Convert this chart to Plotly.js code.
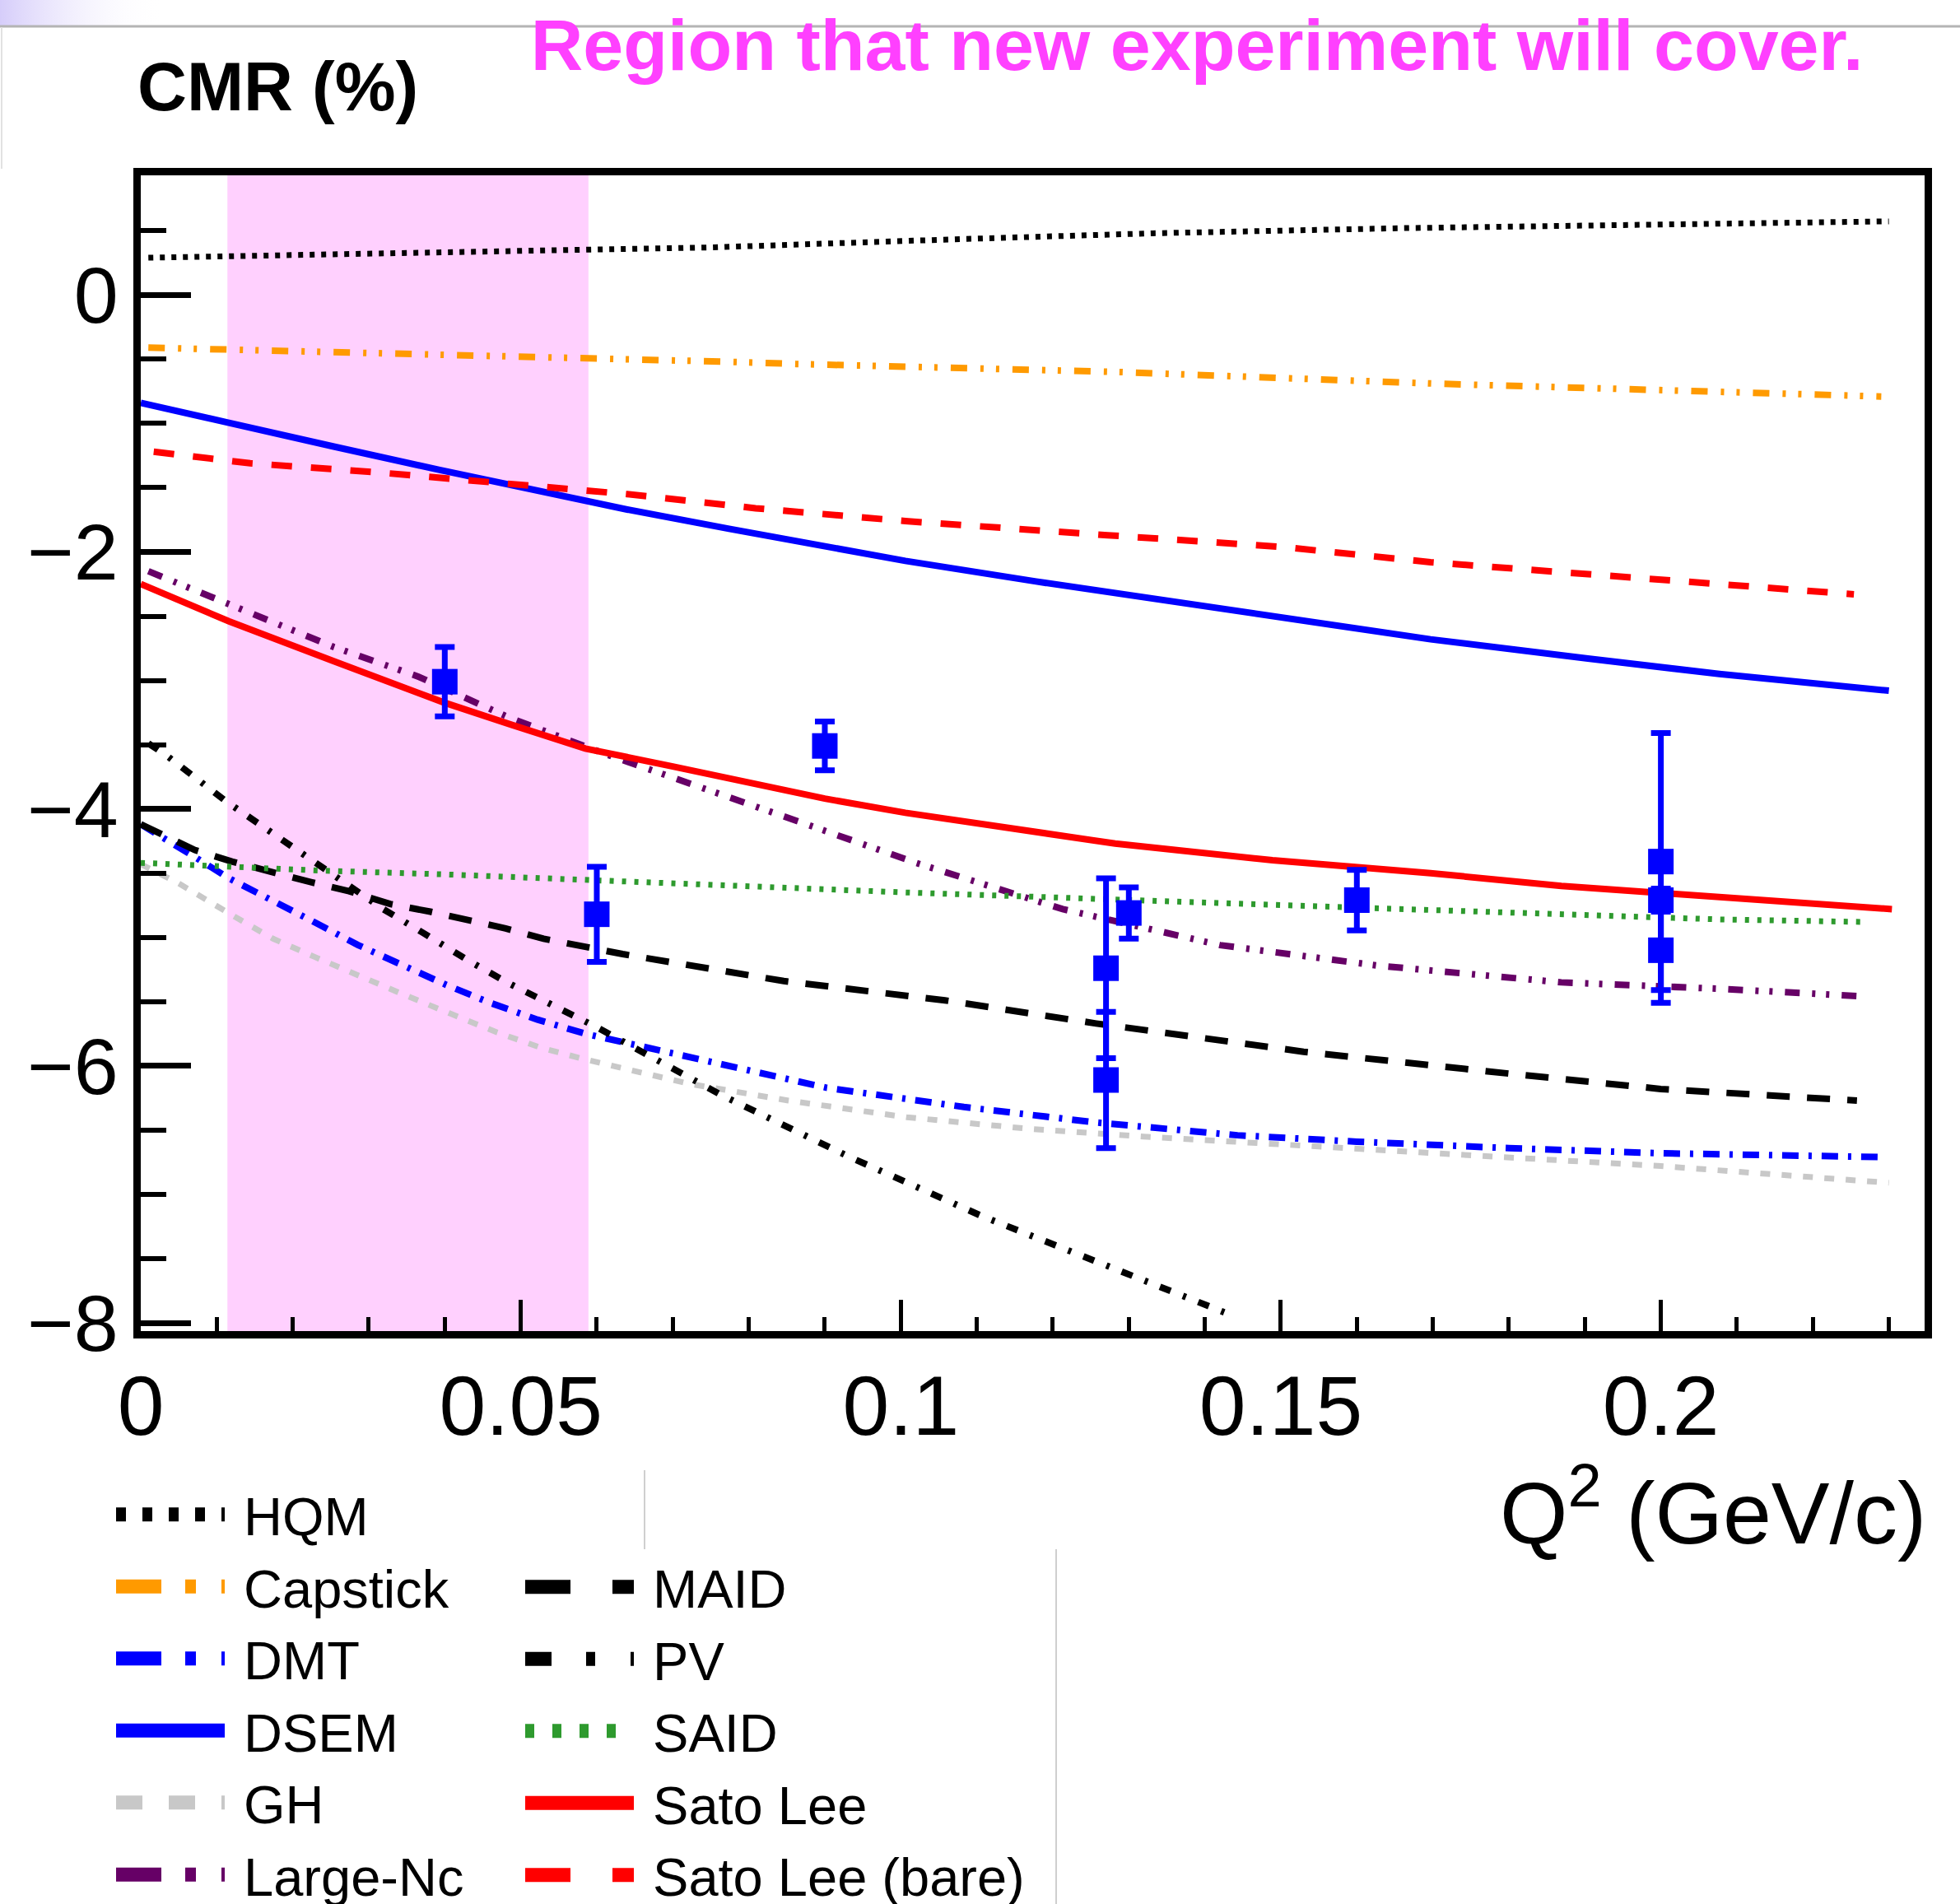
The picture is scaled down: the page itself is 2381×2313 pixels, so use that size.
<!DOCTYPE html>
<html><head><meta charset="utf-8">
<script src="https://cdn.plot.ly/plotly-3.0.1.min.js"></script>
<style>html,body{margin:0;padding:0;background:#fff}#chart{width:2381px;height:2313px}</style>
</head><body><div id="chart"></div>
<script>
// ---------- data ----------
const regionQ2 = [0.0114, 0.0589];

const hqmQ2 = [0.001, 0.0254, 0.0475, 0.0751, 0.108, 0.1331, 0.166, 0.1949, 0.23];
const hqmCMR = [0.29, 0.32, 0.34, 0.37, 0.435, 0.48, 0.52, 0.546, 0.573];

const capstickQ2 = [0.001, 0.031, 0.0585, 0.0774, 0.0862, 0.1288, 0.1703, 0.2211, 0.229];
const capstickCMR = [-0.41, -0.45, -0.49, -0.52, -0.537, -0.60, -0.69, -0.778, -0.79];

const dsemQ2 = [0, 0.0116, 0.0254, 0.0392, 0.053, 0.064, 0.0774, 0.1006, 0.1178, 0.1351, 0.1524, 0.1697, 0.1904, 0.2077, 0.23];
const dsemCMR = [-0.84, -1.0, -1.18, -1.36, -1.53, -1.67, -1.82, -2.07, -2.23, -2.38, -2.52, -2.68, -2.83, -2.95, -3.08];

const satoBareQ2 = [0.0017, 0.0144, 0.031, 0.0475, 0.064, 0.0809, 0.1006, 0.1272, 0.15, 0.1697, 0.19, 0.2077, 0.2254];
const satoBareCMR = [-1.22, -1.31, -1.38, -1.47, -1.55, -1.66, -1.76, -1.87, -1.96, -2.08, -2.17, -2.24, -2.33];

const satoQ2 = [0, 0.0116, 0.0254, 0.0398, 0.0485, 0.0585, 0.07, 0.08, 0.09, 0.1006, 0.1282, 0.1489, 0.1697, 0.1869, 0.2077, 0.2304];
const satoCMR = [-2.25, -2.54, -2.85, -3.17, -3.34, -3.53, -3.67, -3.80, -3.92, -4.03, -4.27, -4.40, -4.50, -4.60, -4.69, -4.78];

const largeNcQ2 = [0.001, 0.0105, 0.0254, 0.0365, 0.0485, 0.061, 0.07, 0.08, 0.09, 0.102, 0.1213, 0.142, 0.1628, 0.1869, 0.2077, 0.227];
const largeNcCMR = [-2.15, -2.38, -2.74, -2.97, -3.29, -3.57, -3.76, -3.97, -4.17, -4.42, -4.78, -5.06, -5.22, -5.35, -5.40, -5.46];

const saidQ2 = [0, 0.0236, 0.0402, 0.061, 0.1006, 0.1558, 0.2077, 0.2268];
const saidCMR = [-4.42, -4.48, -4.51, -4.56, -4.65, -4.76, -4.86, -4.88];

const pvQ2 = [0.001, 0.0033, 0.0112, 0.0166, 0.0216, 0.0269, 0.0319, 0.0373, 0.0431, 0.0485, 0.0539, 0.0597, 0.0765, 0.0933, 0.1107, 0.1281, 0.1435];
const pvCMR = [-3.49, -3.58, -3.94, -4.16, -4.36, -4.59, -4.78, -4.97, -5.18, -5.36, -5.52, -5.69, -6.23, -6.71, -7.17, -7.58, -7.94];

const maidQ2 = [0, 0.0071, 0.012, 0.017, 0.0224, 0.0274, 0.0328, 0.0381, 0.0431, 0.048, 0.053, 0.0585, 0.0634, 0.0846, 0.1058, 0.1257, 0.153, 0.18, 0.2, 0.2258];
const maidCMR = [-4.12, -4.32, -4.41, -4.49, -4.57, -4.64, -4.74, -4.80, -4.86, -4.93, -5.01, -5.08, -5.13, -5.34, -5.49, -5.67, -5.89, -6.06, -6.18, -6.27];

const dmtQ2 = [0, 0.0037, 0.007, 0.0116, 0.017, 0.0228, 0.0286, 0.0344, 0.0402, 0.046, 0.0522, 0.0585, 0.0759, 0.0902, 0.1083, 0.1256, 0.1443, 0.16, 0.18, 0.2, 0.2292];
const dmtCMR = [-4.12, -4.26, -4.37, -4.54, -4.71, -4.88, -5.06, -5.22, -5.37, -5.51, -5.64, -5.75, -5.98, -6.17, -6.32, -6.44, -6.54, -6.59, -6.64, -6.68, -6.71];

const ghQ2 = [0, 0.005, 0.0124, 0.0174, 0.0228, 0.0286, 0.0348, 0.0406, 0.0469, 0.0527, 0.0585, 0.0722, 0.0852, 0.1008, 0.1169, 0.1319, 0.1518, 0.18, 0.2, 0.23];
const ghCMR = [-4.43, -4.58, -4.84, -5.01, -5.15, -5.30, -5.45, -5.59, -5.74, -5.86, -5.95, -6.14, -6.27, -6.40, -6.49, -6.55, -6.62, -6.72, -6.78, -6.91];

const dataQ2 = [0.04, 0.06, 0.09, 0.127, 0.127, 0.13, 0.16, 0.2, 0.2, 0.2];
const dataCMR = [-3.01, -4.82, -3.51, -5.24, -6.11, -4.81, -4.71, -4.41, -4.71, -5.10];
const dataErr = [0.27, 0.37, 0.19, 0.70, 0.53, 0.20, 0.235, 1.0, 0.09, 0.41];

const xTickVals = [0, 0.05, 0.1, 0.15, 0.2];
const yTickVals = [0, -2, -4, -6, -8];

// ---------- styles ----------
const FONT = 'Liberation Sans, Arial, Helvetica, sans-serif';
const series = [
  {name:'GH',        x:ghQ2,       y:ghCMR,       color:'#c8c8c8', dash:'12px,14px',                     w:7,   ldash:'32px,32px',            leg:'legend'},
  {name:'HQM',       x:hqmQ2,      y:hqmCMR,      color:'#000000', dash:'6px,8px',                       w:7,   ldash:'12px,20px',            leg:'legend'},
  {name:'Capstick',  x:capstickQ2, y:capstickCMR, color:'#ff9a00', dash:'20px,16px,4px,15px,4px,16px',   w:8,   ldash:'55px,29px,13px,31px',  leg:'legend'},
  {name:'DMT',       x:dmtQ2,      y:dmtCMR,      color:'#0000ff', dash:'20px,12px,4px,12px',            w:8,   ldash:'55px,29px,13px,31px',  leg:'legend'},
  {name:'DSEM',      x:dsemQ2,     y:dsemCMR,     color:'#0000ff', dash:'solid',                         w:8,   ldash:'solid',                leg:'legend'},
  {name:'Large-Nc',  x:largeNcQ2,  y:largeNcCMR,  color:'#660066', dash:'18px,15px,4px,13px,4px,15px',   w:8,   ldash:'55px,29px,13px,31px',  leg:'legend'},
  {name:'MAID',      x:maidQ2,     y:maidCMR,     color:'#000000', dash:'28px,21px',                     w:8,   ldash:'55px,51px',            leg:'legend2'},
  {name:'PV',        x:pvQ2,       y:pvCMR,       color:'#000000', dash:'14px,16px,4px,16px',            w:8,   ldash:'32px,42px,11px,43px',  leg:'legend2'},
  {name:'SAID',      x:saidQ2,     y:saidCMR,     color:'#2e9a2e', dash:'5px,10px',                      w:7,   ldash:'11px,22px',            leg:'legend2'},
  {name:'Sato Lee',  x:satoQ2,     y:satoCMR,     color:'#ff0000', dash:'solid',                         w:8,   ldash:'solid',                leg:'legend2'},
  {name:'Sato Lee (bare)', x:satoBareQ2, y:satoBareCMR, color:'#ff0000', dash:'25px,23px',              w:8,   ldash:'55px,51px',            leg:'legend2'}
];
const legendOrder = ['HQM','Capstick','DMT','DSEM','GH','Large-Nc','MAID','PV','SAID','Sato Lee','Sato Lee (bare)'];

const traces = [];
series.forEach(s => {
  traces.push({type:'scatter', mode:'lines', x:s.x, y:s.y, name:s.name, showlegend:false,
    line:{color:s.color, width:s.w, dash:s.dash}, hoverinfo:'skip'});
});
// legend entries (thicker samples like the reference legend)
legendOrder.forEach(n => {
  const s = series.find(t => t.name === n);
  traces.push({type:'scatter', mode:'lines', x:[null], y:[null], name:'\u00a0' + s.name,
    legend:s.leg, showlegend:true, line:{color:s.color, width:17, dash:s.ldash}, hoverinfo:'skip'});
});
traces.push({type:'scatter', mode:'markers', x:dataQ2, y:dataCMR, name:'data', showlegend:false,
  marker:{symbol:'square', size:31, color:'#0000ff'},
  error_y:{type:'data', array:dataErr, visible:true, color:'#0000ff', thickness:7, width:12}});

// ---------- layout geometry (pixels) ----------
const L = 171, T = 213, W = 2167, H = 1404;
const px = v => (v - L) / W;
const py = v => (T + H - v) / H;

const gradSvg = "data:image/svg+xml;utf8," + encodeURIComponent(
  "<svg xmlns='http://www.w3.org/2000/svg' width='200' height='32'><defs><linearGradient id='g' x1='0' y1='0' x2='1' y2='0'><stop offset='0' stop-color='#d6cdfa'/><stop offset='1' stop-color='#ffffff' stop-opacity='0'/></linearGradient></defs><rect width='200' height='32' fill='url(#g)'/></svg>");

const axisCommon = {showgrid:false, zeroline:false, showline:true, linecolor:'#000', linewidth:9, mirror:true,
  ticks:'inside', tickcolor:'#000'};

const layout = {
  width:2381, height:2313,
  paper_bgcolor:'#ffffff', plot_bgcolor:'#ffffff',
  margin:{l:L, r:2381 - L - W, t:T, b:2313 - T - H, autoexpand:false},
  font:{family:FONT, color:'#000'},
  title:{text:'Region that new experiment will cover.', font:{family:FONT, size:88, color:'#ff40ff', weight:'bold'},
    xref:'container', yref:'container', x:0.6107, xanchor:'center', y:1 - 54/2313, yanchor:'middle'},
  xaxis:Object.assign({}, axisCommon, {range:[0, 0.2347], tickvals:xTickVals, ticktext:xTickVals.map(String),
    tickfont:{family:FONT, size:102, color:'#000'},
    ticklen:38, tickwidth:5, ticklabelstandoff:-5,
    minor:{dtick:0.01, tick0:0, ticklen:17, tickwidth:5, tickcolor:'#000', ticks:'inside'}}),
  yaxis:Object.assign({}, axisCommon, {range:[-8.064, 0.931], tickvals:yTickVals,
    tickfont:{family:FONT, size:97, color:'#000'},
    ticklen:61, tickwidth:7, ticklabelstandoff:-1,
    minor:{dtick:0.5, tick0:0, ticklen:31, tickwidth:6, tickcolor:'#000', ticks:'inside'}}),
  shapes:[
    {type:'rect', xref:'x', yref:'y domain', x0:regionQ2[0], x1:regionQ2[1], y0:0, y1:1,
      fillcolor:'#ffd0fe', line:{width:0}, layer:'below'},
    {type:'line', xref:'paper', yref:'paper', x0:px(0), x1:px(2381), y0:py(32), y1:py(32), line:{color:'#b4b4b4', width:3}},
    {type:'line', xref:'paper', yref:'paper', x0:px(2), x1:px(2), y0:py(33), y1:py(205), line:{color:'#e2e2e2', width:2}},
    {type:'line', xref:'paper', yref:'paper', x0:px(783), x1:px(783), y0:py(1786), y1:py(1882), line:{color:'#cfcfcf', width:2}},
    {type:'line', xref:'paper', yref:'paper', x0:px(1283), x1:px(1283), y0:py(1882), y1:py(2313), line:{color:'#cfcfcf', width:2}}
  ],
  images:[{source:gradSvg, xref:'paper', yref:'paper', x:px(0), y:py(0), sizex:200/W, sizey:32/H,
    xanchor:'left', yanchor:'top', sizing:'stretch', layer:'below'}],
  annotations:[
    {text:'CMR (%)', xref:'paper', yref:'paper', x:px(165), xanchor:'left', y:py(106), yanchor:'middle',
      showarrow:false, font:{family:FONT, size:83, color:'#000', weight:'bold'}},
    {text:'Q<sup>2</sup> (GeV/c)', xref:'paper', yref:'paper', x:px(2342), xanchor:'right', y:py(1830), yanchor:'middle',
      showarrow:false, font:{family:FONT, size:106, color:'#000'}}
  ],
  legend:{x:px(136), xanchor:'left', y:py(1791), yanchor:'top', itemwidth:132, bgcolor:'rgba(0,0,0,0)',
    borderwidth:0, font:{family:FONT, size:65, color:'#000'}, traceorder:'normal'},
  legend2:{x:px(633), xanchor:'left', y:py(1879), yanchor:'top', itemwidth:132, bgcolor:'rgba(0,0,0,0)',
    borderwidth:0, font:{family:FONT, size:65, color:'#000'}, traceorder:'normal'},
  showlegend:true
};

const gdEl = document.getElementById('chart');
function thickenLegend() {
  // legend samples only (not the plotted curves): as thick as in the reference legend
  gdEl.querySelectorAll('.infolayer .legendlines path').forEach(p => {
    p.style.setProperty('stroke-width', '17px', 'important');
  });
}
Plotly.newPlot(gdEl, traces, layout, {displayModeBar:false, staticPlot:true}).then(() => {
  thickenLegend();
  gdEl.on('plotly_afterplot', thickenLegend);
  setTimeout(thickenLegend, 0);
});
</script></body></html>
